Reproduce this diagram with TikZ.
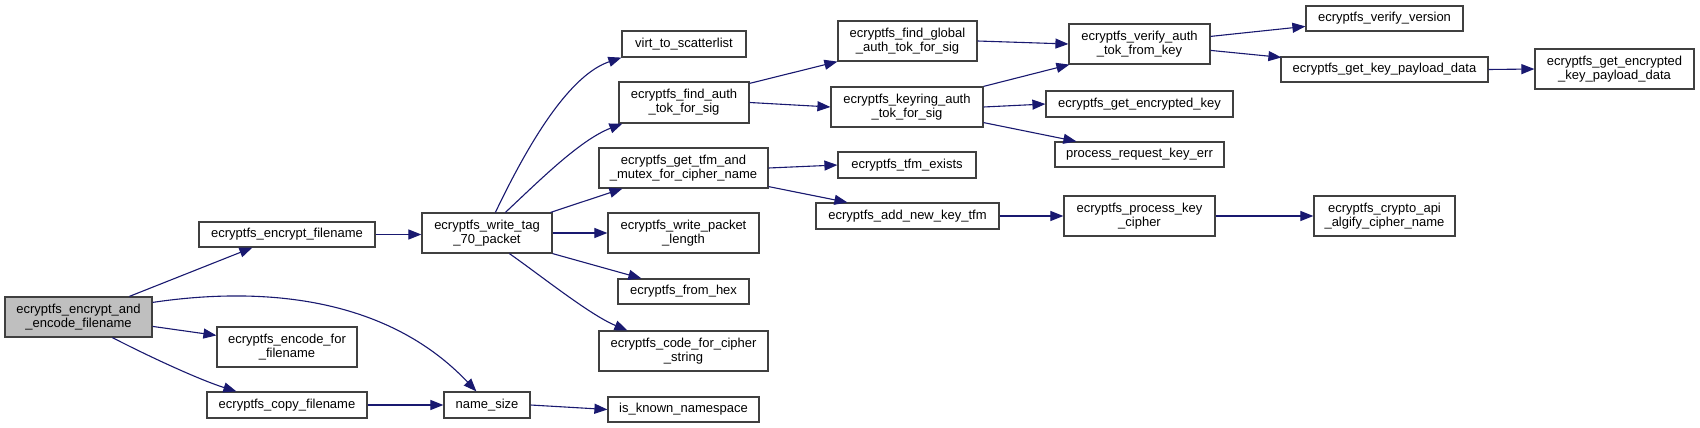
\documentclass[tikz,border=0pt]{standalone}
\usepackage{fontspec}
\setmainfont{Liberation Sans}
\usetikzlibrary{arrows.meta,calc}
\definecolor{edgec}{HTML}{191970}
\definecolor{boxc}{HTML}{404040}
\definecolor{maingray}{HTML}{BFBFBF}
\begin{document}
\begin{tikzpicture}[x=1pt,y=-1pt,
 fn/.style={draw=boxc, line width=1.2pt, fill=white, inner sep=0pt, align=center, font=\fontsize{13}{14}\selectfont},
 edge/.style={draw=edgec, line width=1.1pt, -{Triangle[length=13pt,width=10pt]}}]
\useasboundingbox (0,0) rectangle (1700,428);
\fill[white] (0,0) rectangle (1700,428);

\node[fn, fill=maingray, minimum width=147pt, minimum height=40pt] (main) at (78.5,317) {ecryptfs\_encrypt\_and\\\_encode\_filename};
\node[fn, minimum width=176pt, minimum height=25pt] (encrypt) at (287,234.5) {ecryptfs\_encrypt\_filename};
\node[fn, minimum width=140pt, minimum height=40pt] (encode) at (287,347) {ecryptfs\_encode\_for\\\_filename};
\node[fn, minimum width=160pt, minimum height=26pt] (copy) at (287,405) {ecryptfs\_copy\_filename};
\node[fn, minimum width=130pt, minimum height=40pt] (wtag) at (487,233) {ecryptfs\_write\_tag\\\_70\_packet};
\node[fn, minimum width=86pt, minimum height=26pt] (nsize) at (487,405) {name\_size};
\node[fn, minimum width=124pt, minimum height=26pt] (virt) at (684,44) {virt\_to\_scatterlist};
\node[fn, minimum width=130pt, minimum height=41pt] (fauth) at (684,102.5) {ecryptfs\_find\_auth\\\_tok\_for\_sig};
\node[fn, minimum width=169pt, minimum height=40pt] (gtfm) at (683.5,168) {ecryptfs\_get\_tfm\_and\\\_mutex\_for\_cipher\_name};
\node[fn, minimum width=151pt, minimum height=40pt] (wpl) at (683.5,233) {ecryptfs\_write\_packet\\\_length};
\node[fn, minimum width=131pt, minimum height=25pt] (fhex) at (683.5,291.5) {ecryptfs\_from\_hex};
\node[fn, minimum width=169pt, minimum height=40pt] (ccs) at (683.5,351) {ecryptfs\_code\_for\_cipher\\\_string};
\node[fn, minimum width=151pt, minimum height=25pt] (iskn) at (683.5,409.5) {is\_known\_namespace};
\node[fn, minimum width=139pt, minimum height=40pt] (fglob) at (907.5,41) {ecryptfs\_find\_global\\\_auth\_tok\_for\_sig};
\node[fn, minimum width=152pt, minimum height=40pt] (kring) at (907,107) {ecryptfs\_keyring\_auth\\\_tok\_for\_sig};
\node[fn, minimum width=138pt, minimum height=26pt] (tfmex) at (907,165) {ecryptfs\_tfm\_exists};
\node[fn, minimum width=183pt, minimum height=26pt] (addk) at (907.5,216) {ecryptfs\_add\_new\_key\_tfm};
\node[fn, minimum width=141pt, minimum height=40pt] (vauth) at (1139.5,44) {ecryptfs\_verify\_auth\\\_tok\_from\_key};
\node[fn, minimum width=187pt, minimum height=26pt] (gek) at (1139.5,104) {ecryptfs\_get\_encrypted\_key};
\node[fn, minimum width=169pt, minimum height=25pt] (preq) at (1139.5,154.5) {process\_request\_key\_err};
\node[fn, minimum width=151pt, minimum height=40pt] (pkc) at (1139.5,216) {ecryptfs\_process\_key\\\_cipher};
\node[fn, minimum width=157pt, minimum height=25pt] (vver) at (1384.5,18.5) {ecryptfs\_verify\_version};
\node[fn, minimum width=207pt, minimum height=25pt] (gkpd) at (1384.5,69.5) {ecryptfs\_get\_key\_payload\_data};
\node[fn, minimum width=159pt, minimum height=40pt] (gekpd) at (1614.5,69) {ecryptfs\_get\_encrypted\\\_key\_payload\_data};
\node[fn, minimum width=141pt, minimum height=40pt] (capi) at (1384.5,216) {ecryptfs\_crypto\_api\\\_algify\_cipher\_name};

% edges
\draw[edge] ($(main.north west)+(125,0)$) -- ($(encrypt.south west)+(54,0)$);
\draw[edge] ($(main.north east)+(0,6)$) .. controls (270,285) and (390,300) .. ($(nsize.north west)+(33,0)$);
\draw[edge] ($(main.north east)+(0,30)$) -- ($(encode.north west)+(0,9)$);
\draw[edge] ($(main.south west)+(108,0)$) .. controls (150,357) and (200,380) .. ($(copy.north west)+(30,0)$);
\draw[edge] (encrypt.east) -- (encrypt.east -| wtag.west);
\draw[edge] (copy.east) -- (nsize.west);
\draw[edge] (nsize.east) -- (iskn.west);
\draw[edge] ($(wtag.north west)+(74,0)$) .. controls (530,140) and (570,75) .. (virt.south west);
\draw[edge] ($(wtag.north west)+(84,0)$) .. controls (540,180) and (580,140) .. ($(fauth.south west)+(4,0)$);
\draw[edge] ($(wtag.north east)+(-2,0)$) -- ($(gtfm.south west)+(24,0)$);
\draw[edge] (wtag.east) -- (wpl.west);
\draw[edge] (wtag.south east) -- ($(fhex.north west)+(24,0)$);
\draw[edge] ($(wtag.south west)+(88,0)$) .. controls (540,275) and (590,315) .. ($(ccs.north west)+(29,0)$);
\draw[edge] ($(fauth.north east)+(0,2)$) -- (fglob.south west);
\draw[edge] (fauth.east) -- (kring.west);
\draw[edge] (gtfm.east) -- (tfmex.west);
\draw[edge] ($(gtfm.south east)+(0,-2)$) -- ($(addk.north west)+(32,0)$);
\draw[edge] (fglob.east) -- (vauth.west);
\draw[edge] (kring.north east) -- ($(vauth.south west)+(1,0)$);
\draw[edge] (kring.east) -- (gek.west);
\draw[edge] ($(kring.south east)+(0,-5)$) -- ($(preq.north west)+(22,0)$);
\draw[edge] (addk.east) -- (pkc.west);
\draw[edge] ($(vauth.north east)+(0,13)$) -- ($(vver.north west)+(0,21)$);
\draw[edge] ($(vauth.north east)+(0,27)$) -- ($(gkpd.north west)+(1,1)$);
\draw[edge] (gkpd.east) -- (gekpd.west);
\draw[edge] (pkc.east) -- (capi.west);
\end{tikzpicture}
\end{document}
